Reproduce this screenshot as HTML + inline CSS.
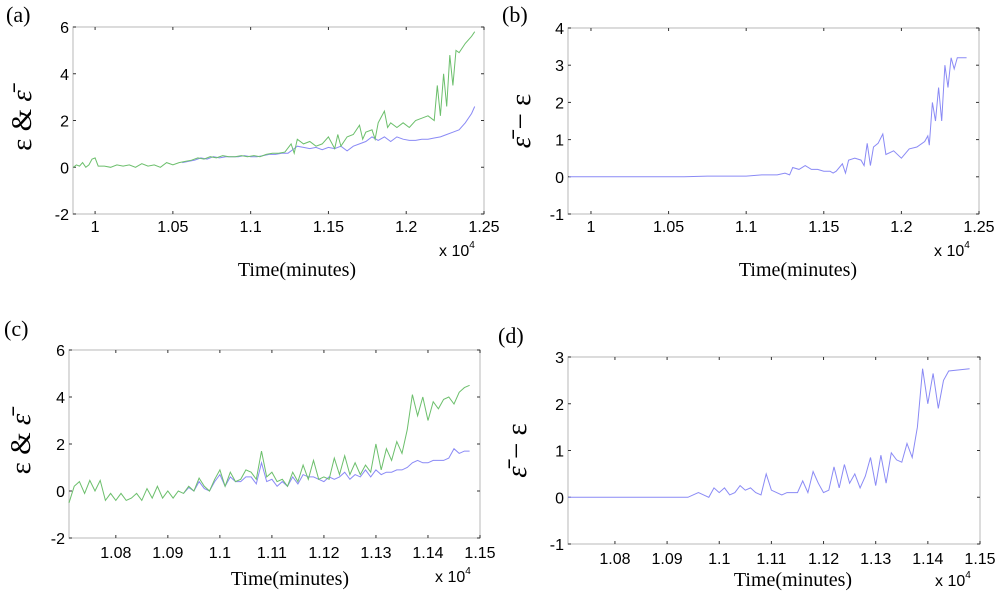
<!DOCTYPE html>
<html><head><meta charset="utf-8"><style>
body{margin:0;background:#fff;}
svg{display:block;}
text{fill:#000;}
.tk{font-family:"Liberation Sans",sans-serif;font-size:16px;}
.sf{font-family:"Liberation Serif",serif;}
</style></head><body>
<svg id="fig" width="1000" height="594" viewBox="0 0 1000 594"></svg>
<script>
// ---- Panel (a) data ----
const aGreenT=[9860,9880,9900,9920,9940,9960,9980,10000,10020,10060,10100,10140,10180,10220,10260,10300,10340,10380,10420,10460,10500,10540,10580,10620,10660,10700,10740,10780,10820,10860,10900,10940,10980,11020,11060,11100,11140,11180,11220,11260,11280,11300,11340,11380,11420,11460,11500,11540,11560,11580,11620,11660,11700,11720,11740,11780,11800,11820,11860,11880,11900,11940,11980,12020,12060,12100,12140,12180,12200,12220,12240,12260,12280,12300,12320,12340,12380,12420,12440];
const aGreenV=[0.0,0.1,0.05,0.2,0.0,0.1,0.35,0.4,0.05,0.05,0.0,0.1,0.05,0.1,0.0,0.15,0.05,0.1,0.0,0.2,0.1,0.2,0.25,0.3,0.4,0.35,0.45,0.4,0.5,0.45,0.45,0.5,0.45,0.5,0.45,0.55,0.6,0.6,0.65,1.0,0.6,1.2,1.0,1.1,0.9,1.0,1.3,0.8,1.4,0.9,1.3,1.4,1.8,1.2,1.5,1.6,1.2,1.9,2.4,1.7,1.9,1.7,1.9,1.7,2.0,2.1,2.2,2.0,3.5,2.2,4.0,2.6,4.8,3.5,5.0,4.9,5.3,5.6,5.8];
const aBlueT=[10560,10600,10640,10680,10720,10760,10800,10840,10880,10920,10960,11000,11040,11080,11120,11160,11200,11240,11280,11300,11340,11380,11420,11460,11500,11540,11580,11620,11660,11700,11740,11780,11820,11860,11900,11940,11980,12020,12060,12100,12140,12180,12220,12260,12300,12340,12380,12420,12440];
const aBlueV=[0.2,0.25,0.3,0.4,0.35,0.45,0.4,0.45,0.45,0.45,0.5,0.45,0.45,0.5,0.55,0.55,0.6,0.6,0.8,0.9,0.85,0.8,0.85,0.75,0.85,0.8,0.9,0.7,0.9,1.0,1.1,1.3,1.15,1.3,1.1,1.3,1.2,1.15,1.15,1.2,1.2,1.25,1.3,1.4,1.5,1.6,1.9,2.3,2.6];
// ---- Panel (b) data ----
const bT=[9860,10600,10750,11000,11100,11200,11250,11280,11300,11340,11380,11420,11460,11500,11540,11560,11580,11620,11640,11660,11700,11740,11760,11780,11800,11820,11850,11880,11900,11950,12000,12050,12100,12150,12170,12180,12200,12220,12240,12260,12280,12300,12320,12340,12360,12420];
const bV=[0,0,0.02,0.02,0.05,0.05,0.1,0.05,0.25,0.2,0.3,0.2,0.2,0.15,0.15,0.1,0.15,0.35,0.1,0.45,0.5,0.45,0.3,0.9,0.3,0.8,0.9,1.15,0.6,0.7,0.5,0.75,0.8,0.95,1.1,0.85,2.0,1.5,2.4,1.5,3.0,2.4,3.2,2.9,3.2,3.2];
// ---- Panel (c) data ----
const cGreenT=[10710,10720,10730,10740,10750,10760,10770,10780,10790,10800,10810,10820,10830,10840,10850,10860,10870,10880,10890,10900,10910,10920,10930,10940,10950,10960,10970,10980,10990,11000,11010,11020,11030,11040,11050,11060,11070,11080,11090,11100,11110,11120,11130,11140,11150,11160,11170,11180,11190,11200,11210,11220,11230,11240,11250,11260,11270,11280,11290,11300,11310,11320,11330,11340,11350,11360,11370,11380,11390,11400,11410,11420,11430,11440,11450,11460,11470,11480];
const cGreenV=[-0.5,0.2,0.4,-0.1,0.45,0.0,0.45,-0.4,-0.1,-0.4,-0.1,-0.4,-0.3,-0.1,-0.4,0.1,-0.3,0.2,-0.3,0.0,-0.3,0.0,-0.1,0.2,0.0,0.55,0.2,0.0,0.5,0.9,0.2,0.8,0.4,0.5,0.9,0.8,0.5,1.7,0.6,0.8,0.4,0.5,0.2,0.8,0.4,1.1,0.5,1.3,0.5,0.6,0.5,1.4,0.7,1.5,0.7,1.2,0.7,1.1,0.8,2.0,0.9,1.8,1.3,2.1,1.6,2.6,4.1,3.2,4.0,3.0,3.8,3.5,3.9,4.0,3.7,4.2,4.4,4.5];
const cBlueT=[10930,10940,10950,10960,10970,10980,10990,11000,11010,11020,11030,11040,11050,11060,11070,11080,11090,11100,11110,11120,11130,11140,11150,11160,11170,11180,11190,11200,11210,11220,11230,11240,11250,11260,11270,11280,11290,11300,11310,11320,11330,11340,11350,11360,11370,11380,11390,11400,11410,11420,11430,11440,11450,11460,11470,11480];
const cBlueV=[-0.1,0.15,0.0,0.4,0.1,0.0,0.4,0.7,0.2,0.6,0.4,0.4,0.6,0.6,0.3,1.2,0.4,0.5,0.2,0.4,0.2,0.6,0.3,0.7,0.6,0.6,0.5,0.4,0.6,0.5,0.6,0.8,0.5,0.7,0.6,0.9,0.6,0.9,0.7,0.8,0.8,0.9,0.9,1.0,1.2,1.3,1.2,1.2,1.3,1.3,1.3,1.4,1.8,1.6,1.7,1.7];
// ---- Panel (d) data ----
const dT=[10710,10940,10960,10970,10980,10990,11000,11010,11020,11030,11040,11050,11060,11070,11080,11090,11100,11110,11120,11130,11140,11150,11160,11170,11180,11190,11200,11210,11220,11230,11240,11250,11260,11270,11280,11290,11300,11310,11320,11330,11340,11350,11360,11370,11380,11390,11400,11410,11420,11430,11440,11480];
const dV=[0,0,0.1,0.05,0.0,0.2,0.1,0.2,0.05,0.1,0.25,0.15,0.2,0.1,0.05,0.5,0.15,0.1,0.05,0.1,0.1,0.1,0.35,0.1,0.55,0.3,0.1,0.15,0.65,0.2,0.7,0.3,0.5,0.2,0.45,0.85,0.25,0.9,0.3,0.95,0.8,0.75,1.15,0.85,1.5,2.75,2.0,2.65,1.9,2.5,2.7,2.75];

const NS="http://www.w3.org/2000/svg";
const svg=document.getElementById('fig');
function el(tag,attrs,parent){const e=document.createElementNS(NS,tag);for(const k in attrs)e.setAttribute(k,attrs[k]);(parent||svg).appendChild(e);return e;}

function panel(p){
  const g=el('g',{});
  
  
  const sx=v=>p.x0+(v-p.xmin)/(p.xmax-p.xmin)*(p.x1-p.x0);
  const sy=v=>p.y1-(v-p.ymin)/(p.ymax-p.ymin)*(p.y1-p.y0);
  const box=el('rect',{x:p.x0,y:p.y0,width:p.x1-p.x0,height:p.y1-p.y0,fill:'none',stroke:'#c8c8c8','stroke-width':1.3},g);
  
  
  p.xt.forEach(v=>{
    const x=sx(v);
    el('line',{x1:x,y1:p.y1,x2:x,y2:p.y1-3,stroke:'#333'},g);
    el('line',{x1:x,y1:p.y0,x2:x,y2:p.y0+3,stroke:'#333'},g);
    const t=el('text',{x:x,y:p.y1+p.xtOff,'text-anchor':'middle',class:'tk'},g);
    t.textContent=String(v/1e4);
    
    
  });
  p.yt.forEach(v=>{
    const y=sy(v);
    el('line',{x1:p.x0,y1:y,x2:p.x0+3,y2:y,stroke:'#333'},g);
    el('line',{x1:p.x1,y1:y,x2:p.x1-3,y2:y,stroke:'#333'},g);
    const t=el('text',{x:p.x0-4,y:y+6,'text-anchor':'end',class:'tk'},g);
    t.textContent=String(v);
    
    
  });
  p.series.forEach(s=>{
    const pts=s.t.map((t,i)=>sx(t).toFixed(1)+','+sy(s.v[i]).toFixed(1)).join(' ');
    const pl=el('polyline',{points:pts,fill:'none',stroke:s.c,'stroke-width':1},g);
    
    
  });
  const ex=el('text',{x:p.x1-45,y:p.y1+p.exOff,class:'tk'},g);
  ex.innerHTML='x 10<tspan dy="-8" font-size="10">4</tspan>';
  
  
  const xl=el('text',{x:p.xlx,y:p.xly,'text-anchor':'middle',class:'sf','font-size':20},g);
  xl.textContent='Time(minutes)';
  
  
  const lb=el('text',{x:p.lx,y:p.ly,class:'sf','font-size':22},g);
  lb.textContent='('+p.id+')';
  
  
  const yl=el('text',{x:0,y:0,'text-anchor':'middle',class:'sf','font-size':29,transform:'translate('+p.ylx+','+((p.y0+p.y1)/2)+') rotate(-90)'},g);
  yl.innerHTML=p.ylab;
  
  
}
const ylAC='ε &amp; <tspan font-style="italic">ε̄</tspan>';
const ylBD='<tspan font-style="italic">ε̄</tspan> − ε';
panel({id:'a',x0:73,x1:484,y0:27,y1:214,xmin:9858,xmax:12500,ymin:-2,ymax:6,
  xt:[10000,10500,11000,11500,12000,12500],yt:[-2,0,2,4,6],xtOff:18,exOff:42,xlx:297,xly:276,lx:6,ly:22,ylx:31,ylab:ylAC,
  series:[{t:aBlueT,v:aBlueV,c:'#8a8af5',name:'series-epsilon-blue'},{t:aGreenT,v:aGreenV,c:'#6cbf6c',name:'series-epsilon-bar-green'}]});
panel({id:'b',x0:568,x1:979,y0:28,y1:214,xmin:9852,xmax:12500,ymin:-1,ymax:4,
  xt:[10000,10500,11000,11500,12000,12500],yt:[-1,0,1,2,3,4],xtOff:18,exOff:42,xlx:798,xly:276,lx:502,ly:22,ylx:530,ylab:ylBD,
  series:[{t:bT,v:bV,c:'#8a8af5',name:'series-difference'}]});
panel({id:'c',x0:69,x1:480,y0:350,y1:538,xmin:10710,xmax:11500,ymin:-2,ymax:6,
  xt:[10800,10900,11000,11100,11200,11300,11400,11500],yt:[-2,0,2,4,6],xtOff:20,exOff:44,xlx:290,xly:585,lx:4,ly:336,ylx:30,ylab:ylAC,
  series:[{t:cBlueT,v:cBlueV,c:'#8a8af5',name:'series-epsilon-blue'},{t:cGreenT,v:cGreenV,c:'#6cbf6c',name:'series-epsilon-bar-green'}]});
panel({id:'d',x0:568,x1:980,y0:357,y1:544,xmin:10710,xmax:11500,ymin:-1,ymax:3,
  xt:[10800,10900,11000,11100,11200,11300,11400,11500],yt:[-1,0,1,2,3],xtOff:20,exOff:42,xlx:793,xly:586,lx:498,ly:343,ylx:526,ylab:ylBD,
  series:[{t:dT,v:dV,c:'#8a8af5',name:'series-difference'}]});
</script>
</body></html>
